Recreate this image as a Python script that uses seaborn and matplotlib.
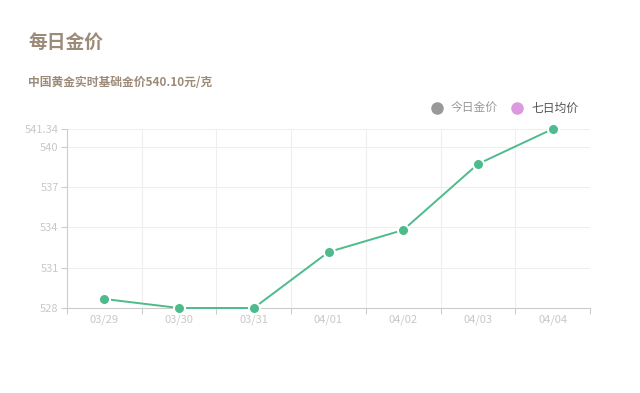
import pandas as pd
import numpy as np
import matplotlib.pyplot as plt
import seaborn as sns
from matplotlib.ticker import FixedLocator

# data
dates = ['03/29', '03/30', '03/31', '04/01', '04/02', '04/03', '04/04']
prices = [528.67, 528.0, 528.0, 532.17, 533.81, 538.73, 541.34]
y_ticks = [528, 531, 534, 537, 540, 541.34]
y_tick_labels = ['528', '531', '534', '537', '540', '541.34']

sns.set_theme(style='white')
plt.rcParams['font.family'] = ['Noto Sans CJK SC', 'DejaVu Sans']

df = pd.DataFrame({'date': dates, 'price': prices})

fig = plt.figure(figsize=(6.4, 3.93), dpi=100)
ax = fig.add_axes([67 / 640, 1 - 308 / 393, (590 - 67) / 640, (308 - 129) / 393])

sns.lineplot(data=df, x='date', y='price', ax=ax, color='#4dbb8c', linewidth=1.4,
             marker='o', markersize=8, markeredgecolor='white', markeredgewidth=1.5,
             zorder=3, clip_on=False)

ax.set_xlim(-0.5, len(dates) - 0.5)
ax.set_ylim(528, 541.34)
ax.set_yticks(y_ticks)
ax.set_yticklabels(y_tick_labels)
ax.set_xticks(range(len(dates)))
ax.set_xticklabels(dates)
ax.xaxis.set_minor_locator(FixedLocator(np.arange(-0.5, len(dates), 1.0)))

ax.set_xlabel('')
ax.set_ylabel('')

# grid
ax.grid(False)
for b in np.arange(-0.5, len(dates), 1.0)[1:]:
    ax.axvline(b, color='#eeeeee', linewidth=0.8, zorder=0)
for t in y_ticks:
    ax.axhline(t, color='#eeeeee', linewidth=0.8, zorder=0)

for side in ['top', 'right']:
    ax.spines[side].set_visible(False)
for side in ['left', 'bottom']:
    ax.spines[side].set_color('#cccccc')
    ax.spines[side].set_linewidth(0.8)

ax.tick_params(axis='y', which='major', length=4, width=0.8, color='#cccccc',
               labelsize=8, labelcolor='#c8c8c8', pad=2, left=True)
ax.tick_params(axis='x', which='major', length=0, labelsize=8, labelcolor='#c8c8c8', pad=5)
ax.tick_params(axis='x', which='minor', length=4, width=0.8, color='#cccccc', bottom=True)

# titles
fig.text(28 / 640, 1 - 43 / 393, '每日金价', fontsize=13.5, fontweight='bold',
         color='#9c8b78', va='center', ha='left')
fig.text(28 / 640, 1 - 83 / 393, '中国黄金实时基础金价540.10元/克', fontsize=8.5, fontweight='bold',
         color='#9c8b78', va='center', ha='left')

# legend
fig.lines.append(plt.Line2D([437 / 640], [1 - 108 / 393], marker='o', markersize=8,
                            color='#999999', linestyle='none', transform=fig.transFigure))
fig.text(451 / 640, 1 - 108 / 393, '今日金价', fontsize=8.5, color='#999999', va='center')
fig.lines.append(plt.Line2D([517 / 640], [1 - 108 / 393], marker='o', markersize=8,
                            color='#dd99e0', linestyle='none', transform=fig.transFigure))
fig.text(531 / 640, 1 - 108 / 393, '七日均价', fontsize=8.5, color='#555555', va='center')

fig.savefig('out.png', dpi=100, facecolor='white')
